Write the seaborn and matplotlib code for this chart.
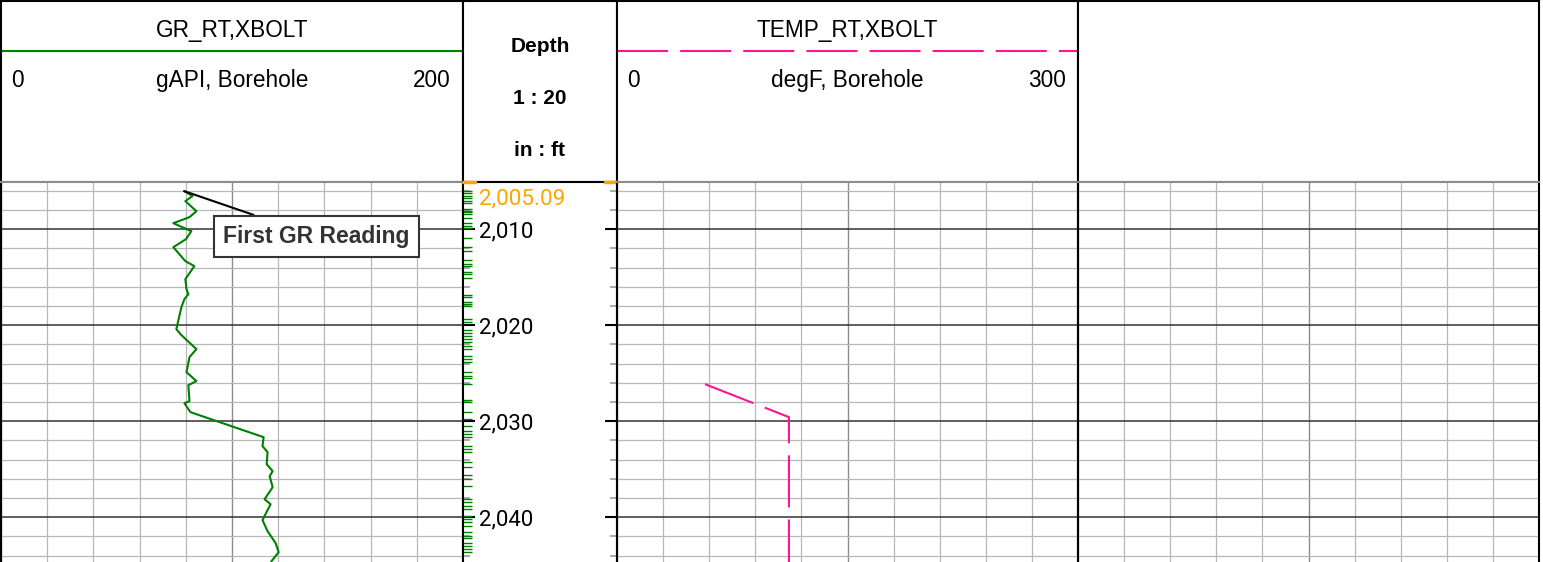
import pandas as pd
import seaborn as sns
import matplotlib.pyplot as plt
from matplotlib.ticker import MultipleLocator

# GR log (gAPI) against measured depth (ft)
gr_depth = [2006.04, 2006.56, 2007.08, 2008.13, 2008.75, 2009.38, 2010.21, 2011.04, 2011.88,
            2013.33, 2013.85, 2015.21, 2016.25, 2016.77, 2017.29, 2018.13, 2020.42, 2021.04,
            2022.50, 2023.33, 2024.90, 2025.83, 2026.25, 2027.92, 2028.13, 2029.06, 2031.67,
            2032.60, 2033.23, 2034.48, 2035.21, 2035.73, 2036.88, 2038.13, 2038.65, 2040.31,
            2041.46, 2042.71, 2043.65, 2044.58, 2045.0]
gr_value = [79.3, 82.9, 79.8, 84.6, 81.6, 74.6, 82.4, 80.1, 74.6, 79.8, 83.7, 79.8, 80.3, 81.1,
            79.4, 78.1, 75.9, 78.1, 84.6, 81.6, 80.3, 84.6, 81.1, 81.6, 79.4, 82.0, 113.7, 113.2,
            115.4, 115.0, 117.6, 116.3, 117.6, 114.1, 116.7, 113.2, 115.4, 118.9, 120.2, 117.1, 116.3]

# TEMP log (degF)
temp_depth = [2026.15, 2029.58, 2045.0]
temp_value = [57.3, 111.9, 111.9]

# sample marks shown in the depth track
rug_depth = [2006.01, 2006.25, 2006.53, 2006.77, 2007.05, 2007.29, 2007.92, 2008.09, 2008.26,
             2008.44, 2008.89, 2009.41, 2009.66, 2009.93, 2010.97, 2011.91, 2012.26, 2013.23,
             2013.65, 2013.89, 2014.45, 2014.69, 2015.10, 2016.84, 2017.11, 2017.57, 2017.81,
             2018.05, 2019.38, 2019.72, 2020.49, 2020.83, 2021.11, 2021.46, 2021.80, 2022.16,
             2022.50, 2023.20, 2023.54, 2023.89, 2024.93, 2025.28, 2025.55, 2026.15, 2027.81,
             2027.99, 2029.09, 2029.79, 2030.49, 2031.01, 2031.35, 2031.70, 2032.57, 2032.92,
             2033.20, 2034.30, 2034.82, 2035.63, 2036.04, 2036.74, 2038.13, 2038.41, 2038.82,
             2039.17, 2039.86, 2040.21, 2040.55, 2040.91, 2041.59, 2041.95, 2042.22, 2042.64,
             2042.99, 2043.33, 2043.68]

depth_top = 2005.09
depth_bottom = 2044.67
depth_ticks = [2010, 2020, 2030, 2040]

sns.set_style('white')
plt.rcParams['font.family'] = ['Liberation Sans', 'DejaVu Sans']
plt.rcParams['text.color'] = 'black'

W, H = 1543, 562
fig = plt.figure(figsize=(W / 100, H / 100), dpi=100)


def px_axes(x0, y0, x1, y1):
    return fig.add_axes([x0 / W, 1 - y1 / H, (x1 - x0) / W, (y1 - y0) / H])


def header(x0, x1, bottom_color='#8c8c8c'):
    ax = px_axes(x0, 1, x1, 182)
    ax.set_xlim(0, 1)
    ax.set_ylim(182, 1)
    ax.set_xticks([])
    ax.set_yticks([])
    for s in ax.spines.values():
        s.set(color='black', lw=1.5)
    ax.spines['bottom'].set_color(bottom_color)
    return ax


def grid_track(ax, xmax):
    ax.set_xlim(0, xmax)
    ax.set_ylim(depth_bottom, depth_top)
    ax.xaxis.set_major_locator(MultipleLocator(xmax / 2))
    ax.xaxis.set_minor_locator(MultipleLocator(xmax / 10))
    ax.yaxis.set_major_locator(MultipleLocator(10))
    ax.yaxis.set_minor_locator(MultipleLocator(2))
    ax.grid(which='minor', color='#b8b8b8', lw=0.9)
    ax.grid(which='major', axis='x', color='#8c8c8c', lw=1.0)
    ax.grid(which='major', axis='y', color='#333333', lw=1.1)
    ax.set_axisbelow(True)
    ax.tick_params(which='both', length=0, labelleft=False, labelbottom=False)
    ax.set_xlabel('')
    ax.set_ylabel('')
    for s in ['left', 'right']:
        ax.spines[s].set(color='black', lw=1.5)
    ax.spines['top'].set(color='#8c8c8c', lw=1.5)
    ax.spines['bottom'].set_visible(False)


# ---- headers
h1 = header(1, 463)
h1.text(0.5, 36.5, 'GR_RT,XBOLT', ha='center', va='baseline', fontsize=16.3)
h1.plot([0, 1], [51, 51], color='green', lw=1.5)
h1.text(0.022, 87, '0', ha='left', va='baseline', fontsize=16.3)
h1.text(0.5, 87, 'gAPI, Borehole', ha='center', va='baseline', fontsize=16.3)
h1.text(0.974, 87, '200', ha='right', va='baseline', fontsize=16.3)

hd = header(463, 617, bottom_color='black')
for txt, yb in [('Depth', 51.5), ('1 : 20', 104), ('in : ft', 156)]:
    hd.text(0.5, yb, txt, ha='center', va='baseline', fontsize=15, fontweight='bold')

h3 = header(617, 1078)
h3.text(0.5, 36.5, 'TEMP_RT,XBOLT', ha='center', va='baseline', fontsize=16.3)
h3.plot([0, 1], [51, 51], color='#ff1493', lw=1.5, dashes=(24.5, 5.8))
h3.text(0.022, 87, '0', ha='left', va='baseline', fontsize=16.3)
h3.text(0.5, 87, 'degF, Borehole', ha='center', va='baseline', fontsize=16.3)
h3.text(0.974, 87, '300', ha='right', va='baseline', fontsize=16.3)

h4 = header(1078, 1539)

# ---- GR track
ax_gr = px_axes(1, 182, 463, 562)
gr_df = pd.DataFrame({'depth': gr_depth, 'gr': gr_value})
sns.lineplot(data=gr_df, x='gr', y='depth', sort=False, estimator=None, orient='y',
             color='green', lw=1.5, ax=ax_gr)
grid_track(ax_gr, 200)
ax_gr.annotate('First GR Reading', xy=(gr_value[0], gr_depth[0]), xytext=(136.4, 2010.75),
               ha='center', va='center', fontsize=16.5, fontweight='bold', color='#333333',
               bbox=dict(boxstyle='square,pad=0.4', fc='white', ec='#333333', lw=1.5),
               arrowprops=dict(arrowstyle='-', color='black', lw=1.5, shrinkA=0, shrinkB=0))

# ---- depth track
ax_d = px_axes(463, 182, 617, 562)
sns.rugplot(y=rug_depth, ax=ax_d, height=0.06, color='green', lw=2.3, expand_margins=False)
ax_d.set_xlim(0, 1)
ax_d.set_ylim(depth_bottom, depth_top)
ax_d.set_xticks([])
ax_d.yaxis.set_major_locator(MultipleLocator(10))
ax_d.yaxis.set_minor_locator(MultipleLocator(2))
ax_d.tick_params(axis='y', which='major', direction='in', length=8.5, width=1.5, color='black',
                 left=True, right=True, labelleft=False)
ax_d.tick_params(axis='y', which='minor', direction='in', length=5, width=1.2, color='#999999',
                 left=True, right=True)
for s in ['left', 'right', 'top']:
    ax_d.spines[s].set(color='black', lw=1.5)
ax_d.spines['bottom'].set_visible(False)
for d in depth_ticks:
    ax_d.text(0.104, d, f'{d:,}', ha='left', va='center_baseline', fontsize=16,
              family='Roboto', color='black')
ax_d.annotate(f'{depth_top:,.2f}', xy=(0.104, depth_top), xytext=(0, -4.5),
              textcoords='offset points', ha='left', va='top', fontsize=16.2,
              family='Roboto', color='orange')
ax_d.axhline(depth_top, xmin=0, xmax=0.08, color='orange', lw=2.5, clip_on=False, zorder=6)
ax_d.axhline(depth_top, xmin=0.92, xmax=1, color='orange', lw=2.5, clip_on=False, zorder=6)

# ---- TEMP track
ax_t = px_axes(617, 182, 1078, 562)
temp_df = pd.DataFrame({'depth': temp_depth, 'temp': temp_value})
sns.lineplot(data=temp_df, x='temp', y='depth', sort=False, estimator=None, orient='y',
             color='#ff1493', lw=1.5, ax=ax_t)
ax_t.lines[-1].set_dashes((25, 5.8))
grid_track(ax_t, 300)

# ---- empty track
ax_e = px_axes(1078, 182, 1539, 562)
grid_track(ax_e, 1)

fig.savefig('out.png', dpi=100)
